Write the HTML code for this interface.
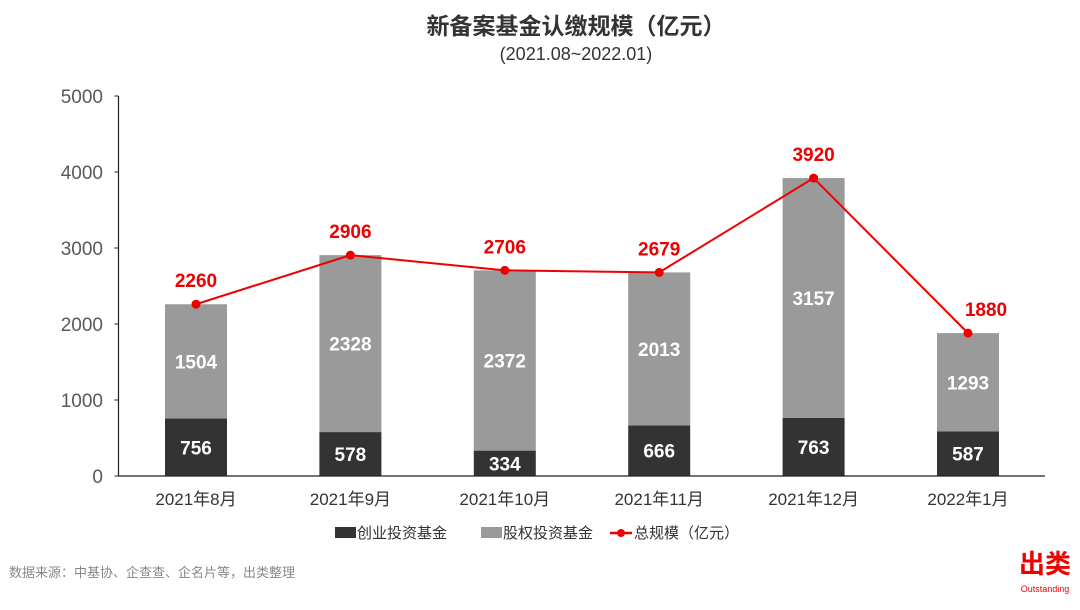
<!DOCTYPE html>
<html><head><meta charset="utf-8">
<style>
body{margin:0;background:#fff;width:1080px;height:605px;overflow:hidden;font-family:"Liberation Sans","Noto Sans CJK SC",sans-serif;}
svg text{font-family:"Liberation Sans","Noto Sans CJK SC",sans-serif;}
</style></head><body>
<svg id="chart" width="1080" height="605">
<text x="576" y="34" text-anchor="middle" font-size="23" font-weight="bold" fill="#333">新备案基金认缴规模（亿元）</text>
<text x="576" y="60" text-anchor="middle" font-size="18" fill="#333">(2021.08~2022.01)</text>
<g id="plot"></g>
<g>
<rect x="335" y="527" width="21" height="11" fill="#333"/>
<text x="357" y="538" font-size="15" fill="#333">创业投资基金</text>
<rect x="481" y="527" width="21" height="11" fill="#9a9a9a"/>
<text x="503" y="538" font-size="15" fill="#333">股权投资基金</text>
<line x1="610" y1="533" x2="632" y2="533" stroke="#e00" stroke-width="2.5"/>
<circle cx="621" cy="533" r="4" fill="#e00"/>
<text x="634" y="538" font-size="15" fill="#333">总规模（亿元）</text>
</g>
<text x="9" y="577" font-size="13" fill="#888">数据来源：中基协、企查查、企名片等，出类整理</text>
<text x="1045" y="573" text-anchor="middle" font-size="26" font-weight="bold" fill="#e00">出类</text>
<text x="1045" y="592" text-anchor="middle" font-size="9" fill="#e00">Outstanding</text>
</svg>
<script>
const categories=["2021年8月","2021年9月","2021年10月","2021年11月","2021年12月","2022年1月"];
const venture=[756,578,334,666,763,587];
const equity=[1504,2328,2372,2013,3157,1293];
const totals=[2260,2906,2706,2679,3920,1880];
const yTicks=[0,1000,2000,3000,4000,5000];
const NS="http://www.w3.org/2000/svg";
const g=document.getElementById('plot');
const y0=476,yTop=96,yMax=5000;
const y=v=>y0-(y0-yTop)*v/yMax;
const x0=118.5,step=154.4,firstC=196;
const xc=i=>firstC+i*step;
const bw=62;
function mk(t,a,p){const e=document.createElementNS(NS,t);for(const k in a)e.setAttribute(k,a[k]);(p||g).appendChild(e);return e;}
yTicks.forEach((v,i)=>{
 const t=mk('text',{x:103,y:y(v)+7,'text-anchor':'end','font-size':19,fill:'#595959'});t.textContent=v;
 
 
 mk('line',{x1:x0-4,x2:x0,y1:y(v),y2:y(v),stroke:'#222','stroke-width':1});
});
categories.forEach((c,i)=>{
 const cx=xc(i);
 const r1=mk('rect',{x:cx-bw/2,y:y(venture[i]),width:bw,height:y0-y(venture[i]),fill:'#333'});
 
 
 const r2=mk('rect',{x:cx-bw/2,y:y(venture[i]+equity[i]),width:bw,height:y(venture[i])-y(venture[i]+equity[i]),fill:'#9a9a9a'});
 
 
 const l1=mk('text',{x:cx,y:(y0+y(venture[i]))/2+7,'text-anchor':'middle','font-size':19,'font-weight':'bold',fill:'#fff'});l1.textContent=venture[i];
 
 
 const l2=mk('text',{x:cx,y:(y(venture[i])+y(venture[i]+equity[i]))/2+7,'text-anchor':'middle','font-size':19,'font-weight':'bold',fill:'#fff'});l2.textContent=equity[i];
 
 
 const xl=mk('text',{x:cx,y:505,'text-anchor':'middle','font-size':17,fill:'#333'});xl.textContent=c;
 
 
});
mk('line',{x1:x0,x2:x0,y1:yTop,y2:y0,stroke:'#222','stroke-width':1.2});
mk('line',{x1:x0,x2:1045,y1:y0,y2:y0,stroke:'#222','stroke-width':1.2});
const pl=mk('polyline',{points:totals.map((v,i)=>xc(i)+','+y(v)).join(' '),fill:'none',stroke:'#e00','stroke-width':2});


totals.forEach((v,i)=>{
 const c=mk('circle',{cx:xc(i),cy:y(v),r:4.5,fill:'#e00'});
 
 
 const t=mk('text',{x:xc(i)+(i==5?18:0),y:y(v)-17,'text-anchor':'middle','font-size':19,'font-weight':'bold',fill:'#e00'});t.textContent=v;
 
 
});
</script>
</body></html>
